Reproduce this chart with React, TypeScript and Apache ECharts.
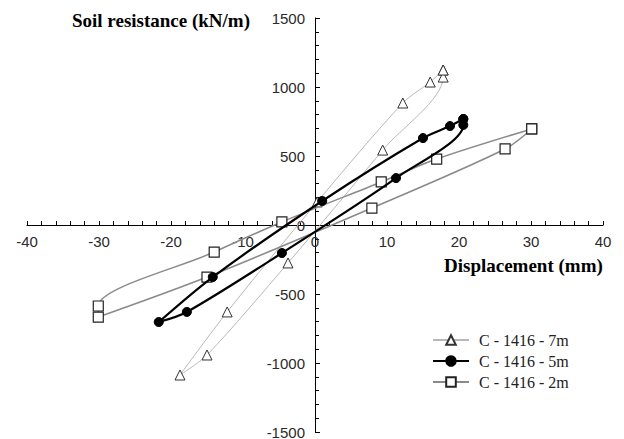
import React, { useEffect, useRef } from "react";
import * as echarts from "echarts";

// Series data: [displacement (mm), soil resistance (kN/m)] in loop order
const seriesNames = ["C - 1416 - 7m", "C - 1416 - 5m", "C - 1416 - 2m"];

const data7m: [number, number][] = [
  [17.8, 1123], [16.0, 1036], [12.2, 884], [0.3, 167], [-12.2, -630], [-18.75, -1087],
  [-15.0, -942], [-3.75, -275], [9.4, 543], [17.8, 1072], [17.8, 1123],
];

const data5m: [number, number][] = [
  [20.6, 768], [18.75, 717], [15.0, 630], [1.0, 174], [-14.2, -377], [-21.7, -703],
  [-17.8, -630], [-4.6, -203], [11.25, 340], [20.6, 725], [20.6, 768],
];

const data2m: [number, number][] = [
  [30.1, 696], [16.9, 478], [9.2, 312], [-4.6, 22], [-14.0, -196], [-30.1, -587],
  [-30.1, -667], [-15.0, -377], [7.9, 123], [26.4, 551], [30.1, 696],
];

const xRange = [-40, 40];
const yRange = [-1500, 1500];
const xTitle = "Displacement (mm)";
const yTitle = "Soil resistance (kN/m)";

const GRID = { left: 27, right: 21, top: 18, bottom: 7 };
const W = 624;
const H = 439;

export default function App() {
  const ref = useRef<HTMLDivElement>(null);
  useEffect(() => {
    if (!ref.current) return;
    const chart = echarts.init(ref.current, null, { renderer: "svg" });
    const tickLabel = {
      fontFamily: "Liberation Sans",
      fontSize: 15,
      color: "#2a2a2a",
      formatter: (v: number) => String(v),
    };
    const plotW = W - GRID.left - GRID.right;
    const plotH = H - GRID.top - GRID.bottom;
    // axes cross at zero: shift each axis from its edge to the other axis' zero
    const xOffset = -(plotH * (0 - yRange[0])) / (yRange[1] - yRange[0]);
    const yOffset = -(plotW * (0 - xRange[0])) / (xRange[1] - xRange[0]);
    chart.setOption({
      animation: false,
      backgroundColor: "#fff",
      grid: { ...GRID, outerBoundsMode: "none", containLabel: false },
      xAxis: {
        type: "value",
        position: "bottom",
        min: xRange[0],
        max: xRange[1],
        interval: 10,
        offset: xOffset,
        axisLine: { onZero: false, lineStyle: { color: "#000", width: 1 } },
        axisTick: { show: true, inside: true, length: 4, lineStyle: { color: "#000" } },
        minorTick: { show: true, splitNumber: 5, length: 4, lineStyle: { color: "#000" } },
        splitLine: { show: false },
        axisLabel: { ...tickLabel, margin: 9 },
      },
      yAxis: {
        type: "value",
        position: "left",
        min: yRange[0],
        max: yRange[1],
        interval: 500,
        offset: yOffset,
        axisLine: { onZero: false, lineStyle: { color: "#000", width: 1 } },
        axisTick: { show: true, inside: true, length: 5, lineStyle: { color: "#000" } },
        minorTick: { show: true, splitNumber: 5, length: 4, lineStyle: { color: "#000" } },
        splitLine: { show: false },
        axisLabel: { ...tickLabel, margin: 10 },
      },
      legend: {
        data: seriesNames,
        orient: "vertical",
        left: 427,
        top: 327,
        itemWidth: 36,
        itemHeight: 12,
        itemGap: 5,
        textStyle: {
          fontFamily: "Liberation Serif",
          fontSize: 16,
          color: "#222",
          padding: [0, 0, 0, 5],
        },
      },
      graphic: [
        {
          type: "text",
          x: 72,
          y: 20,
          style: {
            text: yTitle,
            font: "bold 19px 'Liberation Serif'",
            fill: "#000",
            verticalAlign: "middle",
          },
        },
        {
          type: "text",
          x: 444,
          y: 265,
          style: {
            text: xTitle,
            font: "bold 19px 'Liberation Serif'",
            fill: "#000",
            verticalAlign: "middle",
          },
        },
      ],
      series: [
        {
          name: seriesNames[0],
          type: "line",
          data: data7m,
          smooth: 0.3,
          symbol: "triangle",
          symbolSize: 10,
          lineStyle: { color: "#b8b8b8", width: 1 },
          itemStyle: { color: "#fff", borderColor: "#333", borderWidth: 1 },
          z: 2,
        },
        {
          name: seriesNames[2],
          type: "line",
          data: data2m,
          smooth: 0.3,
          symbol: "rect",
          symbolSize: 10,
          lineStyle: { color: "#8a8a8a", width: 1.5 },
          itemStyle: { color: "#fff", borderColor: "#222", borderWidth: 1.2 },
          z: 3,
        },
        {
          name: seriesNames[1],
          type: "line",
          data: data5m,
          smooth: 0.3,
          symbol: "circle",
          symbolSize: 9,
          lineStyle: { color: "#000", width: 2.2 },
          itemStyle: { color: "#000", borderColor: "#000", borderWidth: 1 },
          z: 4,
        },
      ],
    });
    return () => chart.dispose();
  }, []);
  return (
    <div
      ref={ref}
      style={{ position: "fixed", left: 0, top: 0, width: W, height: H }}
    />
  );
}
